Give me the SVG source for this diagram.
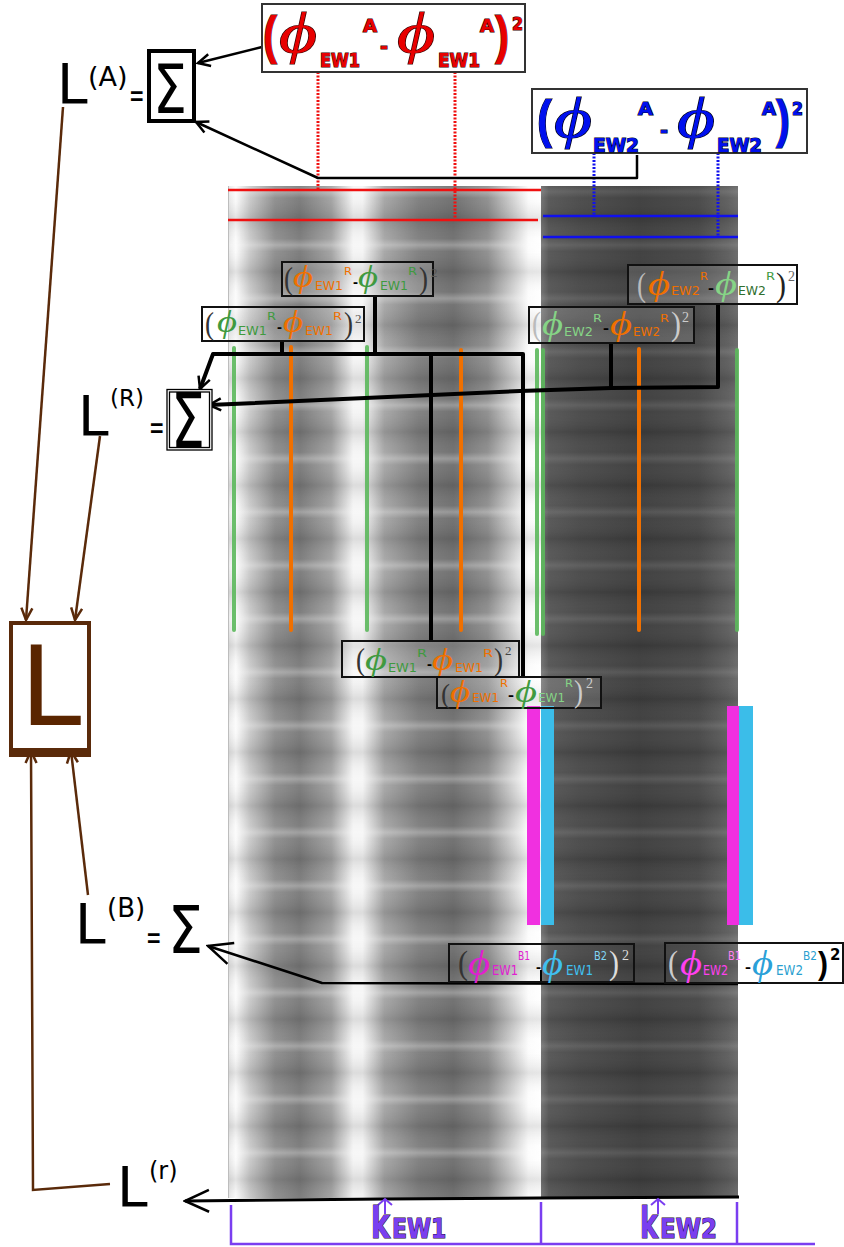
<svg xmlns="http://www.w3.org/2000/svg" width="844" height="1247" viewBox="0 0 844 1247">
<style>
.p{font-family:"Liberation Serif","DejaVu Serif",serif;font-style:italic}
.s{font-family:"DejaVu Sans","Liberation Sans",sans-serif}
.sb{font-family:"DejaVu Sans","Liberation Sans",sans-serif;font-weight:bold}
.lb{font-family:"Liberation Sans","DejaVu Sans",sans-serif;font-weight:bold}
.pr{font-family:"Liberation Serif","DejaVu Serif",serif}
.big{font-family:"DejaVu Sans","Liberation Sans",sans-serif;fill:#000}
.bx{fill:#fff;fill-opacity:0.15;stroke:#111;stroke-width:2}
.hx{font-family:"Liberation Sans","DejaVu Sans",sans-serif;font-weight:bold;font-size:14px;fill:#000}
.o{fill:#f07000}.g{fill:#3f9a3f}.lg{fill:#86d486}
.red{fill:#e80000;stroke:#300;stroke-width:1.2;paint-order:stroke}
.blu{fill:#0010ee;stroke:#001;stroke-width:1.2;paint-order:stroke}
.ln{fill:none;stroke:#000;stroke-linejoin:round}
.br{fill:none;stroke:#5a2a0a;stroke-width:2.5}
.gv{stroke:#5cb85c;stroke-width:4;stroke-linecap:round;stroke-opacity:0.9}
.ov{stroke:#f07000;stroke-width:4;stroke-linecap:round}
.pu{fill:#7a3ef0;stroke:#1a0a30;stroke-width:1.2;paint-order:stroke}
</style>
<defs>
<linearGradient id="lgL" x1="228" y1="0" x2="541" y2="0" gradientUnits="userSpaceOnUse">
<stop offset="0" stop-color="#e4e4e4"/>
<stop offset="0.025" stop-color="#fbfbfb"/>
<stop offset="0.07" stop-color="#c8c8c8"/>
<stop offset="0.15" stop-color="#8c8c8c"/>
<stop offset="0.23" stop-color="#787878"/>
<stop offset="0.33" stop-color="#a0a0a0"/>
<stop offset="0.40" stop-color="#f4f4f4"/>
<stop offset="0.43" stop-color="#f4f4f4"/>
<stop offset="0.50" stop-color="#a4a4a4"/>
<stop offset="0.61" stop-color="#7c7c7c"/>
<stop offset="0.72" stop-color="#6c6c6c"/>
<stop offset="0.83" stop-color="#8c8c8c"/>
<stop offset="0.91" stop-color="#d0d0d0"/>
<stop offset="0.96" stop-color="#fbfbfb"/>
<stop offset="1" stop-color="#ffffff"/>
</linearGradient>
<linearGradient id="lgR" x1="541" y1="0" x2="738" y2="0" gradientUnits="userSpaceOnUse">
<stop offset="0" stop-color="#727272"/>
<stop offset="0.04" stop-color="#565656"/>
<stop offset="0.2" stop-color="#4a4a4a"/>
<stop offset="0.5" stop-color="#3e3e3e"/>
<stop offset="0.8" stop-color="#484848"/>
<stop offset="0.95" stop-color="#5e5e5e"/>
<stop offset="1" stop-color="#6a6a6a"/>
</linearGradient>
<linearGradient id="rowL" x1="0" y1="0" x2="0" y2="1">
<stop offset="0" stop-color="#fff" stop-opacity="0.3"/>
<stop offset="0.12" stop-color="#fff" stop-opacity="0.05"/>
<stop offset="0.5" stop-color="#000" stop-opacity="0.1"/>
<stop offset="0.88" stop-color="#fff" stop-opacity="0.05"/>
<stop offset="1" stop-color="#fff" stop-opacity="0.3"/>
</linearGradient>
<linearGradient id="rowR" x1="0" y1="0" x2="0" y2="1">
<stop offset="0" stop-color="#fff" stop-opacity="0.12"/>
<stop offset="0.12" stop-color="#fff" stop-opacity="0.02"/>
<stop offset="0.5" stop-color="#000" stop-opacity="0.1"/>
<stop offset="0.88" stop-color="#fff" stop-opacity="0.02"/>
<stop offset="1" stop-color="#fff" stop-opacity="0.12"/>
</linearGradient>
<pattern id="pL" x="0" y="245" width="844" height="53.4" patternUnits="userSpaceOnUse">
<rect width="844" height="53.4" fill="url(#rowL)"/>
</pattern>
<pattern id="pR" x="0" y="245" width="844" height="53.4" patternUnits="userSpaceOnUse">
<rect width="844" height="53.4" fill="url(#rowR)"/>
</pattern>
<marker id="aK" viewBox="-14 -8 16 16" refX="0" refY="0" markerWidth="16" markerHeight="16" markerUnits="userSpaceOnUse" orient="auto">
<path d="M-12,-6 L0,0 L-12,6" fill="none" stroke="#000" stroke-width="2.5"/>
</marker>
<marker id="aKL" viewBox="-26 -14 28 28" refX="0" refY="0" markerWidth="28" markerHeight="28" markerUnits="userSpaceOnUse" orient="auto">
<path d="M-24,-11 L0,0 L-24,11" fill="none" stroke="#000" stroke-width="2.5"/>
</marker>
<marker id="aB" viewBox="-14 -8 16 16" refX="0" refY="0" markerWidth="16" markerHeight="16" markerUnits="userSpaceOnUse" orient="auto">
<path d="M-12,-5.5 L0,0 L-12,5.5" fill="none" stroke="#5a2a0a" stroke-width="2.5"/>
</marker>
<marker id="aP" viewBox="-10 -8 12 16" refX="0" refY="0" markerWidth="12" markerHeight="16" markerUnits="userSpaceOnUse" orient="auto">
<path d="M-6,-7 L0,0 L-6,7" fill="none" stroke="#7a3ef0" stroke-width="2"/>
</marker>
</defs>

<rect width="844" height="1247" fill="#fff"/>

<g id="panels">
<rect x="228" y="186" width="313" height="1012" fill="url(#lgL)"/>
<rect x="228" y="186" width="313" height="1012" fill="url(#pL)"/>
<rect x="541" y="186" width="197" height="1012" fill="url(#lgR)"/>
<rect x="541" y="186" width="197" height="1012" fill="url(#pR)"/>
<line x1="228.5" y1="186" x2="228.5" y2="1198" stroke="#bdbdbd" stroke-width="1"/>
</g>

<g id="markers-lines">
<line x1="228" y1="190" x2="541" y2="190" stroke="#f01010" stroke-width="2.5"/>
<line x1="228" y1="220" x2="538" y2="220" stroke="#f01010" stroke-width="2.5"/>
<line x1="543" y1="216" x2="738" y2="216" stroke="#1010ee" stroke-width="2.5"/>
<line x1="543" y1="237" x2="738" y2="237" stroke="#1010ee" stroke-width="2.5"/>
<line x1="318" y1="72" x2="318" y2="190" stroke="#f01010" stroke-width="3" stroke-dasharray="2 1.5"/>
<line x1="455" y1="72" x2="455" y2="220" stroke="#f01010" stroke-width="3" stroke-dasharray="2 1.5"/>
<line x1="594" y1="153" x2="594" y2="216" stroke="#1010ee" stroke-width="3" stroke-dasharray="2 1.5"/>
<line x1="718" y1="153" x2="718" y2="237" stroke="#1010ee" stroke-width="3" stroke-dasharray="2 1.5"/>
<line class="gv" x1="234" y1="348" x2="234" y2="630"/>
<line class="ov" x1="291" y1="347" x2="291" y2="630"/>
<line class="gv" x1="367" y1="347" x2="367" y2="630"/>
<line class="ov" x1="461" y1="350" x2="461" y2="630"/>
<line class="gv" x1="537" y1="350" x2="537" y2="634"/>
<line class="gv" x1="543" y1="350" x2="543" y2="634"/>
<line class="ov" x1="639" y1="349" x2="639" y2="630"/>
<line class="gv" x1="737" y1="350" x2="737" y2="630"/>
<rect x="527" y="706" width="13" height="219" fill="#f030e0"/>
<rect x="541" y="706" width="13" height="219" fill="#3bbde9"/>
<rect x="727" y="706" width="12" height="219" fill="#f030e0"/>
<rect x="739" y="706" width="14" height="219" fill="#3bbde9"/>
</g>

<g id="connectors">
<line class="ln" x1="262" y1="47" x2="198" y2="63" stroke-width="2.5" marker-end="url(#aK)"/>
<polyline class="ln" points="637,155 637,178 318,178 196,122" stroke-width="2.5" marker-end="url(#aK)"/>
<polyline class="ln" points="375,296 375,354" stroke-width="4"/>
<polyline class="ln" points="282,341 282,354" stroke-width="4"/>
<polyline class="ln" points="523,677 523,354 213,354 200,389" stroke-width="4" marker-end="url(#aK)"/>
<polyline class="ln" points="431,354 431,641" stroke-width="4"/>
<polyline class="ln" points="718,304 718,387 611,388 520,391 209,405" stroke-width="4" marker-end="url(#aK)"/>
<polyline class="ln" points="611,343 611,388" stroke-width="4"/>
<polyline class="ln" points="738,984 322,983 208,946" stroke-width="2.5" marker-end="url(#aKL)"/>
<line class="ln" x1="541" y1="970" x2="541" y2="983" stroke-width="2"/>
<polyline class="ln" points="739,1197 540,1198 385,1199 185,1201" stroke-width="3" marker-end="url(#aKL)"/>
<line class="br" x1="63" y1="107" x2="26" y2="620" marker-end="url(#aB)"/>
<line class="br" x1="100" y1="436" x2="75" y2="620" marker-end="url(#aB)"/>
<line class="br" x1="88" y1="895" x2="71" y2="751" marker-end="url(#aB)"/>
<polyline class="br" points="110,1184 33,1190 31,751" marker-end="url(#aB)"/>
<line x1="385" y1="1214" x2="385" y2="1199" stroke="#7a3ef0" stroke-width="2" marker-end="url(#aP)"/>
<line x1="658" y1="1214" x2="658" y2="1199" stroke="#7a3ef0" stroke-width="2" marker-end="url(#aP)"/>
<polyline points="231,1205 231,1244 815,1244" fill="none" stroke="#7a3ef0" stroke-width="2.5"/>
<line x1="541" y1="1202" x2="541" y2="1244" stroke="#7a3ef0" stroke-width="2.5"/>
<line x1="737" y1="1202" x2="737" y2="1244" stroke="#7a3ef0" stroke-width="2.5"/>
</g>

<g id="node-A-red">
<rect x="262" y="4" width="263" height="68" fill="#fff" stroke="#333" stroke-width="2"/>
<text class="red lb" x="263" y="53" font-size="52" textLength="14" lengthAdjust="spacingAndGlyphs">(</text>
<text class="red p" x="279" y="52" font-size="58" textLength="38" lengthAdjust="spacingAndGlyphs">ϕ</text>
<text class="red sb" x="320" y="67" font-size="19" textLength="40" lengthAdjust="spacingAndGlyphs">EW1</text>
<text class="red sb" x="363" y="32" font-size="17" textLength="14" lengthAdjust="spacingAndGlyphs">A</text>
<text class="red sb" x="380" y="53" font-size="20" textLength="8" lengthAdjust="spacingAndGlyphs">-</text>
<text class="red p" x="397" y="52" font-size="58" textLength="38" lengthAdjust="spacingAndGlyphs">ϕ</text>
<text class="red sb" x="438" y="67" font-size="19" textLength="42" lengthAdjust="spacingAndGlyphs">EW1</text>
<text class="red sb" x="480" y="32" font-size="17" textLength="14" lengthAdjust="spacingAndGlyphs">A</text>
<text class="red lb" x="495" y="53" font-size="52" textLength="14" lengthAdjust="spacingAndGlyphs">)</text>
<text class="red sb" x="512" y="30" font-size="17" textLength="11" lengthAdjust="spacingAndGlyphs">2</text>
</g>

<g id="node-A-blue">
<rect x="532" y="89" width="275" height="64" fill="#fff" stroke="#333" stroke-width="2"/>
<text class="blu lb" x="537" y="137" font-size="52" textLength="15" lengthAdjust="spacingAndGlyphs">(</text>
<text class="blu p" x="554" y="137" font-size="58" textLength="38" lengthAdjust="spacingAndGlyphs">ϕ</text>
<text class="blu sb" x="593" y="152" font-size="19" textLength="46" lengthAdjust="spacingAndGlyphs">EW2</text>
<text class="blu sb" x="638" y="115" font-size="17" textLength="15" lengthAdjust="spacingAndGlyphs">A</text>
<text class="blu sb" x="660" y="137" font-size="20" textLength="8" lengthAdjust="spacingAndGlyphs">-</text>
<text class="blu p" x="677" y="137" font-size="58" textLength="38" lengthAdjust="spacingAndGlyphs">ϕ</text>
<text class="blu sb" x="717" y="152" font-size="19" textLength="45" lengthAdjust="spacingAndGlyphs">EW2</text>
<text class="blu sb" x="762" y="115" font-size="17" textLength="14" lengthAdjust="spacingAndGlyphs">A</text>
<text class="blu lb" x="776" y="137" font-size="52" textLength="14" lengthAdjust="spacingAndGlyphs">)</text>
<text class="blu sb" x="792" y="115" font-size="17" textLength="11" lengthAdjust="spacingAndGlyphs">2</text>
</g>

<g id="node-LA">
<text class="big" x="57" y="103" font-size="55">L</text>
<text class="big" x="88" y="86" font-size="27">(A)</text>
<text class="big" transform="translate(129,107) scale(0.56,1)" font-size="33">=</text>
<rect x="149" y="51" width="45" height="70" fill="#fff" stroke="#000" stroke-width="4"/>
<text class="big" x="153" y="113" font-size="68" textLength="34" lengthAdjust="spacingAndGlyphs">Σ</text>
</g>

<g id="node-R1">
<rect class="bx" x="282" y="262" width="151" height="34"/>
<text class="pr" x="284" y="289" font-size="32" fill="#333" textLength="9" lengthAdjust="spacingAndGlyphs">(</text>
<text class="p o" x="293" y="287" font-size="31" textLength="20" lengthAdjust="spacingAndGlyphs">ϕ</text>
<text class="s o" x="315" y="290" font-size="12" textLength="28" lengthAdjust="spacingAndGlyphs">EW1</text>
<text class="s o" x="344" y="275" font-size="10" textLength="8" lengthAdjust="spacingAndGlyphs">R</text>
<text class="hx" x="353" y="287" textLength="5" lengthAdjust="spacingAndGlyphs">-</text>
<text class="p g" x="358" y="287" font-size="31" textLength="20" lengthAdjust="spacingAndGlyphs">ϕ</text>
<text class="s g" x="380" y="290" font-size="12" textLength="28" lengthAdjust="spacingAndGlyphs">EW1</text>
<text class="s g" x="408" y="275" font-size="10" textLength="9" lengthAdjust="spacingAndGlyphs">R</text>
<text class="pr" x="419" y="289" font-size="32" fill="#333" textLength="9" lengthAdjust="spacingAndGlyphs">)</text>
<text class="pr" x="431" y="277" font-size="13" fill="#555">2</text>
</g>

<g id="node-R2">
<rect class="bx" x="202" y="307" width="162" height="34"/>
<text class="pr" x="205" y="334" font-size="32" fill="#333" textLength="9" lengthAdjust="spacingAndGlyphs">(</text>
<text class="p g" x="217" y="332" font-size="31" textLength="20" lengthAdjust="spacingAndGlyphs">ϕ</text>
<text class="s g" x="238" y="335" font-size="12" textLength="29" lengthAdjust="spacingAndGlyphs">EW1</text>
<text class="s g" x="267" y="320" font-size="10" textLength="9" lengthAdjust="spacingAndGlyphs">R</text>
<text class="hx" x="277" y="332" textLength="5" lengthAdjust="spacingAndGlyphs">-</text>
<text class="p o" x="283" y="332" font-size="31" textLength="20" lengthAdjust="spacingAndGlyphs">ϕ</text>
<text class="s o" x="305" y="335" font-size="12" textLength="28" lengthAdjust="spacingAndGlyphs">EW1</text>
<text class="s o" x="333" y="320" font-size="10" textLength="9" lengthAdjust="spacingAndGlyphs">R</text>
<text class="pr" x="344" y="334" font-size="32" fill="#333" textLength="9" lengthAdjust="spacingAndGlyphs">)</text>
<text class="pr" x="355" y="323" font-size="13" fill="#555">2</text>
</g>

<g id="node-R3">
<rect class="bx" x="628" y="265" width="169" height="39"/>
<text class="pr" x="637" y="296" font-size="34" fill="#bbb" textLength="9" lengthAdjust="spacingAndGlyphs">(</text>
<text class="p o" x="648" y="295" font-size="33" textLength="22" lengthAdjust="spacingAndGlyphs">ϕ</text>
<text class="s o" x="671" y="295" font-size="13" textLength="29" lengthAdjust="spacingAndGlyphs">EW2</text>
<text class="s o" x="700" y="280" font-size="11" textLength="8" lengthAdjust="spacingAndGlyphs">R</text>
<text class="hx" x="708" y="293" textLength="6" lengthAdjust="spacingAndGlyphs" fill="#ccc">-</text>
<text class="p lg" x="715" y="295" font-size="33" textLength="22" lengthAdjust="spacingAndGlyphs">ϕ</text>
<text class="s" x="738" y="295" font-size="13" textLength="28" lengthAdjust="spacingAndGlyphs" fill="#2f6f2f">EW2</text>
<text class="s" x="766" y="280" font-size="11" textLength="9" lengthAdjust="spacingAndGlyphs" fill="#3f9a3f">R</text>
<text class="pr" x="776" y="296" font-size="34" fill="#222" textLength="10" lengthAdjust="spacingAndGlyphs">)</text>
<text class="pr" x="788" y="281" font-size="14" fill="#666">2</text>
</g>

<g id="node-R4">
<rect class="bx" x="529" y="307" width="165" height="36"/>
<text class="pr" x="532" y="335" font-size="34" fill="#bbb" textLength="9" lengthAdjust="spacingAndGlyphs">(</text>
<text class="p lg" x="542" y="335" font-size="33" textLength="21" lengthAdjust="spacingAndGlyphs">ϕ</text>
<text class="s lg" x="564" y="336" font-size="13" textLength="29" lengthAdjust="spacingAndGlyphs">EW2</text>
<text class="s lg" x="593" y="322" font-size="11" textLength="9" lengthAdjust="spacingAndGlyphs">R</text>
<text class="hx" x="603" y="333" textLength="6" lengthAdjust="spacingAndGlyphs" fill="#ccc">-</text>
<text class="p o" x="610" y="335" font-size="33" textLength="22" lengthAdjust="spacingAndGlyphs">ϕ</text>
<text class="s o" x="633" y="336" font-size="13" textLength="27" lengthAdjust="spacingAndGlyphs">EW2</text>
<text class="s o" x="660" y="322" font-size="11" textLength="9" lengthAdjust="spacingAndGlyphs">R</text>
<text class="pr" x="671" y="335" font-size="34" fill="#ccc" textLength="10" lengthAdjust="spacingAndGlyphs">)</text>
<text class="pr" x="682" y="322" font-size="14" fill="#ccc">2</text>
</g>

<g id="node-R5">
<rect class="bx" x="342" y="641" width="177" height="36"/>
<text class="pr" x="356" y="670" font-size="32" fill="#333" textLength="9" lengthAdjust="spacingAndGlyphs">(</text>
<text class="p g" x="365" y="670" font-size="32" textLength="22" lengthAdjust="spacingAndGlyphs">ϕ</text>
<text class="s g" x="388" y="672" font-size="13" textLength="29" lengthAdjust="spacingAndGlyphs">EW1</text>
<text class="s g" x="417" y="657" font-size="11" textLength="10" lengthAdjust="spacingAndGlyphs">R</text>
<text class="hx" x="427" y="669" textLength="5" lengthAdjust="spacingAndGlyphs">-</text>
<text class="p o" x="432" y="670" font-size="32" textLength="21" lengthAdjust="spacingAndGlyphs">ϕ</text>
<text class="s o" x="455" y="672" font-size="13" textLength="28" lengthAdjust="spacingAndGlyphs">EW1</text>
<text class="s o" x="483" y="657" font-size="11" textLength="10" lengthAdjust="spacingAndGlyphs">R</text>
<text class="pr" x="494" y="670" font-size="32" fill="#333" textLength="9" lengthAdjust="spacingAndGlyphs">)</text>
<text class="pr" x="505" y="655" font-size="13" fill="#444">2</text>
</g>

<g id="node-R6">
<rect class="bx" x="437" y="677" width="164" height="31"/>
<text class="pr" x="441" y="703" font-size="28" fill="#333" textLength="9" lengthAdjust="spacingAndGlyphs">(</text>
<text class="p o" x="450" y="702" font-size="32" textLength="20" lengthAdjust="spacingAndGlyphs">ϕ</text>
<text class="s o" x="472" y="702" font-size="13" textLength="27" lengthAdjust="spacingAndGlyphs">EW1</text>
<text class="s o" x="500" y="687" font-size="11" textLength="8" lengthAdjust="spacingAndGlyphs">R</text>
<text class="hx" x="508" y="700" textLength="6" lengthAdjust="spacingAndGlyphs">-</text>
<text class="p g" x="515" y="702" font-size="32" textLength="22" lengthAdjust="spacingAndGlyphs">ϕ</text>
<text class="s lg" x="538" y="702" font-size="13" textLength="27" lengthAdjust="spacingAndGlyphs">EW1</text>
<text class="s lg" x="565" y="687" font-size="11" textLength="8" lengthAdjust="spacingAndGlyphs">R</text>
<text class="pr" x="574" y="702" font-size="32" fill="#ccc" textLength="9" lengthAdjust="spacingAndGlyphs">)</text>
<text class="pr" x="586" y="688" font-size="14" fill="#ccc">2</text>
</g>

<g id="node-LR">
<text class="big" x="78" y="435" font-size="55">L</text>
<text class="big" x="110" y="406" font-size="23">(R)</text>
<text class="big" transform="translate(149,439) scale(0.56,1)" font-size="33">=</text>
<rect x="167" y="389.5" width="45" height="60.5" fill="#fff" stroke="#000" stroke-width="1.3"/>
<rect x="169.5" y="392" width="40" height="55.5" fill="none" stroke="#000" stroke-width="1.3"/>
<text class="big" x="171" y="447" font-size="74" textLength="34" lengthAdjust="spacingAndGlyphs">Σ</text>
</g>

<g id="node-B1">
<rect x="449" y="944" width="185" height="38" fill="none" stroke="#111" stroke-width="2"/>
<text class="pr" x="458" y="974" font-size="34" fill="#333" textLength="10" lengthAdjust="spacingAndGlyphs">(</text>
<text class="p" x="468" y="975" font-size="36" textLength="22" lengthAdjust="spacingAndGlyphs" fill="#e020d0">ϕ</text>
<text class="s" x="492" y="975" font-size="14" textLength="26" lengthAdjust="spacingAndGlyphs" fill="#e020d0">EW1</text>
<text class="s" x="518" y="960" font-size="13" textLength="12" lengthAdjust="spacingAndGlyphs" fill="#e020d0">B1</text>
<text class="hx" x="536" y="972" textLength="5" lengthAdjust="spacingAndGlyphs">-</text>
<text class="p" x="542" y="975" font-size="36" textLength="21" lengthAdjust="spacingAndGlyphs" fill="#40c0f0">ϕ</text>
<text class="s" x="566" y="975" font-size="14" textLength="27" lengthAdjust="spacingAndGlyphs" fill="#40c0f0">EW1</text>
<text class="s" x="594" y="960" font-size="13" textLength="13" lengthAdjust="spacingAndGlyphs" fill="#80d4f4">B2</text>
<text class="pr" x="609" y="974" font-size="34" fill="#ddd" textLength="10" lengthAdjust="spacingAndGlyphs">)</text>
<text class="pr" x="622" y="960" font-size="14" fill="#ddd">2</text>
</g>

<g id="node-B2">
<rect x="665" y="943" width="178" height="40" fill="none" stroke="#111" stroke-width="2"/>
<text class="pr" x="668" y="974" font-size="34" fill="#ccc" textLength="10" lengthAdjust="spacingAndGlyphs">(</text>
<text class="p" x="680" y="975" font-size="36" textLength="22" lengthAdjust="spacingAndGlyphs" fill="#ff40f0">ϕ</text>
<text class="s" x="703" y="975" font-size="14" textLength="25" lengthAdjust="spacingAndGlyphs" fill="#ff40f0">EW2</text>
<text class="s" x="728" y="960" font-size="13" textLength="13" lengthAdjust="spacingAndGlyphs" fill="#ff80f0">B1</text>
<text class="hx" x="745" y="972" textLength="6" lengthAdjust="spacingAndGlyphs">-</text>
<text class="p" x="752" y="975" font-size="36" textLength="21" lengthAdjust="spacingAndGlyphs" fill="#2aa0d8">ϕ</text>
<text class="s" x="776" y="975" font-size="14" textLength="27" lengthAdjust="spacingAndGlyphs" fill="#2a9fd0">EW2</text>
<text class="s" x="803" y="960" font-size="13" textLength="14" lengthAdjust="spacingAndGlyphs" fill="#2a9fd0">B2</text>
<text class="lb" x="818" y="974" font-size="32" fill="#000" textLength="10" lengthAdjust="spacingAndGlyphs">)</text>
<text class="sb" x="830" y="960" font-size="15" fill="#000">2</text>
</g>

<g id="node-LB">
<text class="big" x="75" y="943" font-size="55">L</text>
<text class="big" x="107" y="917" font-size="26">(B)</text>
<text class="big" transform="translate(146,949) scale(0.56,1)" font-size="33">=</text>
<text class="big" x="168" y="953" font-size="66" textLength="35" lengthAdjust="spacingAndGlyphs">Σ</text>
</g>

<g id="node-Lr">
<text class="big" x="117" y="1206" font-size="55">L</text>
<text class="big" x="149" y="1179" font-size="24">(r)</text>
</g>

<g id="node-L">
<rect x="11" y="623" width="78" height="128" fill="#fff" stroke="#5a2a0a" stroke-width="4"/>
<rect x="9" y="748" width="82" height="9" fill="#5a2a0a"/>
<text x="20" y="725" font-size="110" fill="#5a2500" font-family="DejaVu Sans, Liberation Sans, sans-serif">L</text>
</g>

<g id="node-k">
<text class="pu sb" transform="translate(371,1238) scale(0.66,1)" font-size="43">k</text>
<text class="pu sb" transform="translate(392,1238) scale(0.81,1)" font-size="27">EW1</text>
<text class="pu sb" transform="translate(640,1238) scale(0.63,1)" font-size="43">k</text>
<text class="pu sb" transform="translate(660,1238) scale(0.85,1)" font-size="27">EW2</text>
</g>
</svg>
